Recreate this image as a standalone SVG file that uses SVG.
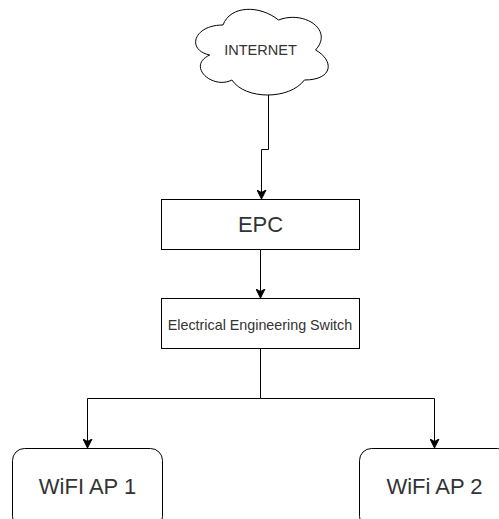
<svg xmlns="http://www.w3.org/2000/svg" width="499" height="519" viewBox="0 0 499 519">
<defs>
<marker id="arr" markerWidth="10" markerHeight="10" refX="9" refY="5" orient="auto" markerUnits="userSpaceOnUse">
<path d="M0,0.5 L9,5 L0,9.5 L2.5,5 z" fill="#000" stroke="#000" stroke-width="1"/>
</marker>
</defs>
<style>
.shape{fill:#fff;stroke:#000;stroke-width:1}
.edge{fill:none;stroke:#000;stroke-width:1}
text{font-family:"Liberation Sans",Arial,sans-serif;fill:#333;text-anchor:middle}
</style>
<rect width="499" height="519" fill="#fff"/>
<g id="connectors">
<path class="edge" d="M268.5,95 V149.5 H261.5 V199" marker-end="url(#arr)"/>
<path class="edge" d="M260.5,249 V298" marker-end="url(#arr)"/>
<path class="edge" d="M260.5,348 V398.5 H87.5 V448" marker-end="url(#arr)"/>
<path class="edge" d="M260.5,398.5 H434.5 V448" marker-end="url(#arr)"/>
</g>
<g id="internet">
<path class="shape" d="M223,25 C193.4,25 186,50 209.7,55 C186,66 212.6,90 231.9,80 C245.2,100 289.6,100 304.4,80 C334,80 334,60 315.5,50 C334,30 304.4,10 278.5,20 C260,5 230.4,5 223,25 Z"/>
<text x="260.5" y="55" font-size="14.5">INTERNET</text>
</g>
<g id="epc">
<rect class="shape" x="161.5" y="199.5" width="198" height="50"/>
<text x="260.5" y="232" font-size="22">EPC</text>
</g>
<g id="switch">
<rect class="shape" x="161.5" y="298.5" width="198" height="50"/>
<text x="260" y="330" font-size="14.3">Electrical Engineering Switch</text>
</g>
<g id="ap1">
<rect class="shape" x="12.5" y="448.5" width="150" height="80" rx="12"/>
<text x="87.5" y="494" font-size="22">WiFI AP 1</text>
</g>
<g id="ap2">
<rect class="shape" x="359.5" y="448.5" width="150" height="80" rx="12"/>
<text x="434.5" y="494" font-size="22">WiFi AP 2</text>
</g>
</svg>
